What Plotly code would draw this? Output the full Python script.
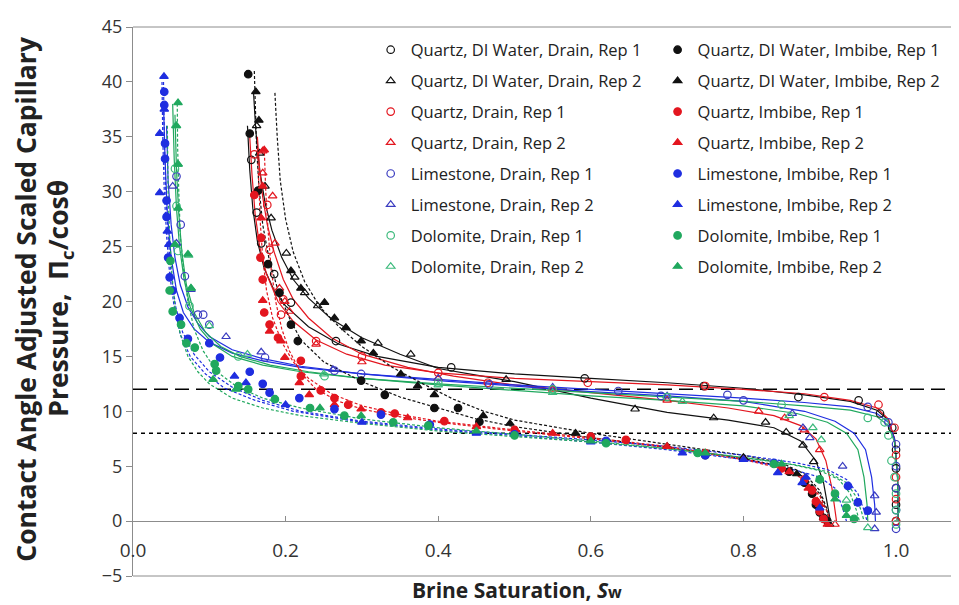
import plotly.graph_objects as go

# ---------------- data (Sw, Pc/cos(theta)) ----------------
HLINE_SW = [0.0, 1.2]
HLINE_HI = [12, 12]
HLINE_LO = [8, 8]

X_TICKS = [0.0, 0.2, 0.4, 0.6, 0.8, 1.0]
X_TICK_TEXT = ["0.0", "0.2", "0.4", "0.6", "0.8", "1.0"]

# Quartz, DI water, drain, rep 1
QDI_D1_SW = [0.155, 0.162, 0.168, 0.185, 0.207, 0.266, 0.417, 0.592, 0.748, 0.872, 0.951, 0.979, 0.995, 1.0, 1.0, 1.0, 1.0, 1.0]
QDI_D1_PC = [32.9, 28.1, 25.3, 22.5, 19.9, 16.4, 14.0, 13.0, 12.3, 11.3, 11.0, 9.8, 8.5, 6.5, 4.8, 3.0, 1.5, 0.0]
QDI_D1_FIT_SW = [0.150, 0.153, 0.157, 0.163, 0.172, 0.185, 0.20, 0.23, 0.27, 0.32, 0.40, 0.50, 0.60, 0.70, 0.80, 0.88, 0.94, 0.975, 0.99, 0.998, 1.002, 1.003]
QDI_D1_FIT_PC = [36, 32, 28.5, 25.5, 23, 21, 19.6, 17.7, 16.1, 15.0, 14.0, 13.4, 13.0, 12.6, 12.1, 11.5, 10.9, 10.1, 9.2, 7.5, 4, 0]

# Quartz, DI water, drain, rep 2
QDI_D2_SW = [0.162, 0.166, 0.173, 0.181, 0.201, 0.212, 0.225, 0.242, 0.279, 0.321, 0.364, 0.489, 0.658, 0.761, 0.829, 0.856, 0.878, 0.892, 0.913]
QDI_D2_PC = [36.0, 33.5, 30.5, 27.6, 24.4, 22.2, 20.8, 19.6, 17.6, 16.2, 15.2, 12.9, 10.2, 9.4, 9.0, 8.1, 6.9, 5.4, -0.3]
QDI_D2_FIT_SW = [0.158, 0.161, 0.166, 0.173, 0.182, 0.195, 0.21, 0.23, 0.26, 0.30, 0.35, 0.40, 0.45, 0.50, 0.60, 0.70, 0.78, 0.84, 0.875, 0.895, 0.905, 0.912, 0.914]
QDI_D2_FIT_PC = [39, 35.5, 32, 29, 26.5, 24, 22, 20.3, 18.4, 16.7, 15.2, 13.9, 13.3, 12.7, 11.2, 9.9, 9.2, 8.5, 7.3, 5.5, 3.5, 1, 0]

# Quartz, DI water, imbibe, rep 1
QDI_I1_SW = [0.151, 0.153, 0.164, 0.177, 0.192, 0.207, 0.216, 0.299, 0.330, 0.395, 0.426, 0.454, 0.60, 0.75, 0.86, 0.88, 0.89, 0.895, 0.90, 0.905, 0.91]
QDI_I1_PC = [40.7, 35.3, 30.1, 23.4, 20.8, 17.9, 16.4, 12.8, 11.5, 10.3, 10.3, 9.05, 7.6, 6.0, 4.5, 3.5, 2.5, 1.5, 0.8, 0.3, 0.0]
QDI_I1_FIT_SW = [0.159, 0.160, 0.162, 0.165, 0.17, 0.178, 0.19, 0.205, 0.22, 0.25, 0.30, 0.35, 0.40, 0.45, 0.50, 0.60, 0.70, 0.80, 0.85, 0.88, 0.90, 0.91, 0.913]
QDI_I1_FIT_PC = [41, 38, 34, 30.5, 27, 24, 21, 18.5, 16.5, 14.5, 12.7, 11.3, 10.3, 9.3, 8.6, 7.6, 6.7, 5.7, 5.0, 4.0, 2.5, 0.8, 0]

# Quartz, DI water, imbibe, rep 2
QDI_I2_SW = [0.161, 0.165, 0.207, 0.220, 0.251, 0.264, 0.279, 0.299, 0.315, 0.351, 0.373, 0.395, 0.459, 0.494, 0.58, 0.70, 0.80, 0.87, 0.89, 0.90, 0.905]
QDI_I2_PC = [39.1, 36.5, 22.8, 21.2, 19.9, 18.5, 17.6, 16.4, 15.3, 13.4, 12.3, 11.5, 9.6, 8.9, 8.0, 6.8, 5.8, 4.3, 3.0, 1.5, 0.3]
QDI_I2_FIT_SW = [0.186, 0.189, 0.193, 0.20, 0.21, 0.225, 0.245, 0.27, 0.30, 0.34, 0.38, 0.42, 0.46, 0.50, 0.60, 0.70, 0.80, 0.85, 0.88, 0.90, 0.91, 0.912]
QDI_I2_FIT_PC = [39, 35, 31, 27.5, 24.5, 21.8, 19.5, 17.7, 15.9, 14.0, 12.5, 11.1, 10.0, 9.2, 8.0, 7.0, 6.0, 5.3, 4.3, 2.8, 1.0, 0]

# Quartz, drain, rep 1
Q_D1_SW = [0.159, 0.176, 0.179, 0.194, 0.197, 0.240, 0.30, 0.40, 0.465, 0.596, 0.75, 0.906, 0.977, 0.998, 1.0, 1.0, 1.0, 1.0]
Q_D1_PC = [33.4, 28.8, 24.7, 18.8, 20.2, 16.4, 15.0, 13.5, 12.6, 12.6, 12.3, 11.3, 10.6, 8.5, 6.0, 4.0, 2.0, 0.0]
Q_D1_FIT_SW = [0.153, 0.156, 0.16, 0.166, 0.175, 0.19, 0.21, 0.24, 0.28, 0.33, 0.40, 0.50, 0.60, 0.70, 0.80, 0.88, 0.94, 0.975, 0.99, 0.998, 1.002, 1.003]
Q_D1_FIT_PC = [35, 31.5, 28, 25, 22.5, 20, 18.2, 16.5, 15.2, 14.2, 13.5, 13.0, 12.7, 12.4, 12.0, 11.6, 11.0, 10.3, 9.3, 7.5, 4, 0]

# Quartz, drain, rep 2
Q_D2_SW = [0.170, 0.170, 0.183, 0.186, 0.192, 0.199, 0.205, 0.240, 0.30, 0.40, 0.55, 0.70, 0.820, 0.854, 0.88, 0.90, 0.92]
Q_D2_PC = [33.7, 31.7, 29.6, 25.3, 21.2, 20.0, 19.1, 16.1, 14.5, 13.0, 12.0, 11.0, 10.0, 9.4, 8.3, 6.5, -0.3]
Q_D2_FIT_SW = [0.163, 0.166, 0.17, 0.176, 0.185, 0.197, 0.21, 0.23, 0.26, 0.30, 0.36, 0.42, 0.50, 0.60, 0.70, 0.78, 0.84, 0.875, 0.895, 0.908, 0.916, 0.92, 0.922]
Q_D2_FIT_PC = [35, 32, 29.5, 27, 24.5, 22, 20.2, 18.5, 16.7, 15.2, 14.0, 13.2, 12.4, 11.7, 11.0, 10.3, 9.6, 8.7, 7.5, 5.5, 3, 1, 0]

# Quartz, imbibe, rep 1
Q_I1_SW = [0.159, 0.168, 0.167, 0.170, 0.172, 0.179, 0.190, 0.220, 0.220, 0.246, 0.264, 0.282, 0.325, 0.343, 0.408, 0.50, 0.60, 0.646, 0.75, 0.85, 0.88, 0.89, 0.895, 0.90, 0.905]
Q_I1_PC = [29.7, 25.8, 24.0, 22.0, 19.0, 17.9, 16.7, 14.6, 13.2, 11.9, 11.2, 10.6, 9.9, 9.8, 9.1, 8.3, 7.7, 7.4, 6.2, 4.8, 3.8, 2.8, 1.8, 0.9, 0.2]
Q_I1_FIT_SW = [0.163, 0.165, 0.167, 0.17, 0.175, 0.183, 0.195, 0.21, 0.23, 0.26, 0.30, 0.35, 0.40, 0.50, 0.60, 0.70, 0.80, 0.85, 0.88, 0.895, 0.903, 0.906]
Q_I1_FIT_PC = [34, 30, 27, 24, 21, 18.5, 16.3, 14.5, 13, 11.6, 10.5, 9.7, 9.1, 8.3, 7.6, 6.8, 5.7, 4.9, 3.9, 2.5, 1, 0]

# Quartz, imbibe, rep 2
Q_I2_SW = [0.172, 0.170, 0.168, 0.170, 0.179, 0.194, 0.199, 0.218, 0.231, 0.264, 0.299, 0.36, 0.45, 0.55, 0.70, 0.80, 0.86, 0.885, 0.90, 0.91]
Q_I2_PC = [33.8, 30.5, 27.6, 20.1, 17.3, 16.4, 14.9, 12.6, 11.5, 10.6, 10.2, 9.4, 8.6, 8.0, 6.8, 5.6, 4.5, 3.0, 1.5, -0.3]
Q_I2_FIT_SW = [0.172, 0.174, 0.177, 0.181, 0.187, 0.195, 0.205, 0.22, 0.24, 0.27, 0.30, 0.35, 0.40, 0.50, 0.60, 0.70, 0.80, 0.85, 0.88, 0.90, 0.91, 0.914]
Q_I2_FIT_PC = [34, 30, 26.5, 23, 20, 17.5, 15.5, 13.5, 12.0, 10.9, 10.2, 9.5, 9.0, 8.2, 7.5, 6.7, 5.6, 4.8, 3.8, 2.3, 0.8, 0]

# Limestone, drain, rep 1
L_D1_SW = [0.057, 0.0625, 0.068, 0.085, 0.092, 0.100, 0.173, 0.264, 0.299, 0.467, 0.636, 0.692, 0.779, 0.80, 0.963, 0.99, 1.0, 1.0, 1.0, 1.0, 1.0]
L_D1_PC = [31.4, 27.0, 22.3, 18.8, 18.8, 17.9, 14.9, 13.7, 13.4, 12.45, 11.85, 11.4, 11.5, 11.0, 10.4, 9.0, 7.0, 5.0, 3.0, 1.0, -0.7]
L_D1_FIT_SW = [0.040, 0.042, 0.045, 0.05, 0.057, 0.066, 0.08, 0.10, 0.13, 0.17, 0.22, 0.30, 0.40, 0.50, 0.60, 0.70, 0.80, 0.88, 0.94, 0.975, 0.99, 0.998, 1.002, 1.003]
L_D1_FIT_PC = [38, 33, 28, 24, 21, 19, 17.5, 16.3, 15.3, 14.6, 14.0, 13.4, 12.9, 12.4, 12.0, 11.6, 11.2, 10.8, 10.4, 9.8, 9.0, 7.5, 4, 0]

# Limestone, drain, rep 2
L_D2_SW = [0.052, 0.057, 0.076, 0.122, 0.168, 0.262, 0.40, 0.55, 0.70, 0.864, 0.878, 0.887, 0.93, 0.972, 0.974, 0.972]
L_D2_PC = [30.5, 25.3, 21.1, 16.8, 15.4, 13.8, 13.0, 12.2, 11.4, 9.8, 8.5, 7.6, 5.0, 2.3, 0.8, -0.7]
L_D2_FIT_SW = [0.044, 0.046, 0.05, 0.055, 0.062, 0.072, 0.085, 0.10, 0.13, 0.17, 0.22, 0.30, 0.40, 0.50, 0.60, 0.70, 0.80, 0.88, 0.92, 0.945, 0.96, 0.968, 0.972, 0.973]
L_D2_FIT_PC = [36, 31, 27, 24, 21.5, 19.5, 18, 16.8, 15.6, 14.8, 14.1, 13.4, 12.8, 12.3, 11.8, 11.4, 10.9, 10.0, 9.1, 8.0, 6.5, 4, 1.5, 0]

# Limestone, imbibe, rep 1
L_I1_SW = [0.041, 0.041, 0.042, 0.042, 0.044, 0.044, 0.046, 0.048, 0.052, 0.061, 0.072, 0.100, 0.114, 0.153, 0.170, 0.179, 0.218, 0.264, 0.325, 0.389, 0.50, 0.62, 0.75, 0.84, 0.937, 0.95, 0.963]
L_I1_PC = [39.1, 37.9, 34.4, 33.0, 29.2, 27.7, 24.0, 22.2, 21.0, 18.5, 16.6, 16.2, 14.9, 13.6, 12.5, 11.7, 11.2, 10.2, 9.7, 8.8, 7.9, 7.3, 6.0, 5.3, 3.2, 1.7, 0.95]
L_I1_FIT_SW = [0.040, 0.041, 0.043, 0.046, 0.05, 0.056, 0.065, 0.08, 0.10, 0.13, 0.17, 0.22, 0.30, 0.40, 0.50, 0.60, 0.70, 0.80, 0.87, 0.91, 0.935, 0.95, 0.958, 0.962]
L_I1_FIT_PC = [40, 35, 30, 26, 22.5, 19.5, 17.2, 15.2, 13.6, 12.2, 11.0, 10.0, 9.1, 8.4, 7.9, 7.4, 6.8, 6.0, 5.3, 4.7, 3.8, 2.5, 1, 0]

# Limestone, imbibe, rep 2
L_I2_SW = [0.0406, 0.041, 0.035, 0.035, 0.045, 0.047, 0.133, 0.148, 0.20, 0.30, 0.45, 0.60, 0.72, 0.80, 0.845, 0.877, 0.882, 0.90]
L_I2_PC = [40.5, 37.5, 35.3, 29.9, 26.4, 25.2, 13.2, 12.6, 10.6, 9.0, 8.0, 7.2, 6.2, 5.6, 4.4, 3.5, 4.0, 1.2]
L_I2_FIT_SW = [0.038, 0.039, 0.041, 0.044, 0.048, 0.054, 0.062, 0.075, 0.095, 0.12, 0.16, 0.21, 0.30, 0.40, 0.50, 0.60, 0.70, 0.80, 0.86, 0.90, 0.92, 0.93, 0.935]
L_I2_FIT_PC = [40, 35, 30, 26, 22.5, 19.5, 17, 15, 13.4, 12.1, 11.0, 10.0, 9.0, 8.3, 7.8, 7.2, 6.5, 5.6, 4.8, 4.0, 3.0, 1.2, 0]

# Dolomite, drain, rep 1
D_D1_SW = [0.055, 0.057, 0.059, 0.074, 0.138, 0.251, 0.40, 0.55, 0.70, 0.85, 0.963, 0.985, 0.99, 0.994, 0.998, 1.0, 1.0, 1.0]
D_D1_PC = [32.1, 28.7, 24.6, 19.6, 15.0, 13.2, 12.6, 12.0, 11.3, 10.6, 9.4, 9.0, 7.8, 5.5, 4.0, 2.5, 1.0, -0.3]
D_D1_FIT_SW = [0.052, 0.054, 0.057, 0.061, 0.067, 0.075, 0.088, 0.105, 0.13, 0.17, 0.22, 0.30, 0.40, 0.50, 0.60, 0.70, 0.80, 0.88, 0.94, 0.975, 0.99, 0.998, 1.002, 1.003]
D_D1_FIT_PC = [38, 33, 28.5, 25, 22, 19.5, 17.5, 16.1, 15.0, 14.2, 13.6, 13.0, 12.5, 12.1, 11.7, 11.3, 10.9, 10.5, 10.1, 9.5, 8.7, 7.2, 4, 0]

# Dolomite, drain, rep 2
D_D2_SW = [0.056, 0.059, 0.073, 0.076, 0.10, 0.15, 0.25, 0.40, 0.55, 0.72, 0.86, 0.891, 0.902, 0.935, 0.963]
D_D2_PC = [36.0, 32.5, 24.2, 21.2, 17.8, 15.2, 13.4, 12.4, 11.7, 10.9, 9.6, 8.5, 7.4, 1.9, -0.6]
D_D2_FIT_SW = [0.055, 0.057, 0.06, 0.064, 0.07, 0.08, 0.095, 0.115, 0.14, 0.18, 0.23, 0.30, 0.40, 0.50, 0.60, 0.70, 0.80, 0.87, 0.91, 0.935, 0.95, 0.958, 0.962, 0.963]
D_D2_FIT_PC = [37, 32, 28, 24.5, 21.5, 19, 17.2, 15.9, 15.0, 14.2, 13.6, 13.0, 12.4, 11.9, 11.4, 11.0, 10.5, 9.8, 9.0, 8.0, 6.5, 4, 1.5, 0]

# Dolomite, imbibe, rep 1
D_I1_SW = [0.049, 0.048, 0.052, 0.063, 0.070, 0.081, 0.107, 0.109, 0.138, 0.151, 0.186, 0.232, 0.277, 0.341, 0.387, 0.50, 0.62, 0.74, 0.84, 0.90, 0.92, 0.935, 0.945]
D_I1_PC = [23.7, 21.0, 19.1, 17.9, 16.2, 15.8, 14.3, 13.7, 12.3, 12.0, 11.1, 10.3, 9.6, 9.0, 8.7, 7.8, 7.1, 6.2, 5.2, 3.8, 2.5, 1.2, 0.2]
D_I1_FIT_SW = [0.045, 0.046, 0.048, 0.051, 0.055, 0.062, 0.072, 0.085, 0.10, 0.13, 0.17, 0.22, 0.30, 0.40, 0.50, 0.60, 0.70, 0.80, 0.87, 0.91, 0.935, 0.948, 0.955, 0.958]
D_I1_FIT_PC = [36, 30, 26, 22.5, 19.5, 17, 15, 13.6, 12.5, 11.2, 10.3, 9.6, 8.9, 8.2, 7.7, 7.2, 6.6, 5.8, 5.1, 4.5, 3.5, 2.2, 0.8, 0]

# Dolomite, imbibe, rep 2
D_I2_SW = [0.059, 0.057, 0.059, 0.059, 0.055, 0.072, 0.076, 0.105, 0.135, 0.245, 0.299, 0.45, 0.60, 0.75, 0.85, 0.90, 0.92, 0.935]
D_I2_PC = [38.1, 36.0, 32.5, 28.5, 25.2, 24.3, 21.2, 12.9, 12.0, 10.3, 9.6, 8.2, 7.3, 6.2, 5.2, 3.8, 2.0, 0.5]
D_I2_FIT_SW = [0.058, 0.0585, 0.06, 0.062, 0.066, 0.072, 0.08, 0.092, 0.11, 0.135, 0.17, 0.22, 0.30, 0.40, 0.50, 0.60, 0.70, 0.80, 0.86, 0.90, 0.925, 0.94, 0.948, 0.952]
D_I2_FIT_PC = [38, 34, 30, 26, 23, 20, 17.5, 15.5, 13.6, 12.3, 11.2, 10.3, 9.3, 8.5, 7.9, 7.3, 6.6, 5.8, 5.2, 4.6, 3.8, 2.5, 1.0, 0]

# ---------------- styling ----------------
BLACK = "#111111"
RED = "#e3161f"
BLUE = "#1f2ee0"
BLUE_OPEN = "#3a3cc0"
GREEN = "#20a85e"
GREEN_OPEN = "#3cba7c"

series = [
    ("Quartz, DI Water, Drain, Rep 1", QDI_D1_SW, QDI_D1_PC, QDI_D1_FIT_SW, QDI_D1_FIT_PC, BLACK, BLACK, "circle-open", "solid", "legend"),
    ("Quartz, DI Water, Drain, Rep 2", QDI_D2_SW, QDI_D2_PC, QDI_D2_FIT_SW, QDI_D2_FIT_PC, BLACK, BLACK, "triangle-up-open", "solid", "legend"),
    ("Quartz, Drain, Rep 1", Q_D1_SW, Q_D1_PC, Q_D1_FIT_SW, Q_D1_FIT_PC, RED, RED, "circle-open", "solid", "legend"),
    ("Quartz, Drain, Rep 2", Q_D2_SW, Q_D2_PC, Q_D2_FIT_SW, Q_D2_FIT_PC, RED, RED, "triangle-up-open", "solid", "legend"),
    ("Limestone, Drain, Rep 1", L_D1_SW, L_D1_PC, L_D1_FIT_SW, L_D1_FIT_PC, BLUE_OPEN, BLUE, "circle-open", "solid", "legend"),
    ("Limestone, Drain, Rep 2", L_D2_SW, L_D2_PC, L_D2_FIT_SW, L_D2_FIT_PC, BLUE_OPEN, BLUE, "triangle-up-open", "solid", "legend"),
    ("Dolomite, Drain, Rep 1", D_D1_SW, D_D1_PC, D_D1_FIT_SW, D_D1_FIT_PC, GREEN_OPEN, GREEN, "circle-open", "solid", "legend"),
    ("Dolomite, Drain, Rep 2", D_D2_SW, D_D2_PC, D_D2_FIT_SW, D_D2_FIT_PC, GREEN_OPEN, GREEN, "triangle-up-open", "solid", "legend"),
    ("Quartz, DI Water, Imbibe, Rep 1", QDI_I1_SW, QDI_I1_PC, QDI_I1_FIT_SW, QDI_I1_FIT_PC, BLACK, BLACK, "circle", "3px,2px", "legend2"),
    ("Quartz, DI Water, Imbibe, Rep 2", QDI_I2_SW, QDI_I2_PC, QDI_I2_FIT_SW, QDI_I2_FIT_PC, BLACK, BLACK, "triangle-up", "3px,2px", "legend2"),
    ("Quartz, Imbibe, Rep 1", Q_I1_SW, Q_I1_PC, Q_I1_FIT_SW, Q_I1_FIT_PC, RED, RED, "circle", "3px,2px", "legend2"),
    ("Quartz, Imbibe, Rep 2", Q_I2_SW, Q_I2_PC, Q_I2_FIT_SW, Q_I2_FIT_PC, RED, RED, "triangle-up", "3px,2px", "legend2"),
    ("Limestone, Imbibe, Rep 1", L_I1_SW, L_I1_PC, L_I1_FIT_SW, L_I1_FIT_PC, BLUE, BLUE, "circle", "3px,2px", "legend2"),
    ("Limestone, Imbibe, Rep 2", L_I2_SW, L_I2_PC, L_I2_FIT_SW, L_I2_FIT_PC, BLUE, BLUE, "triangle-up", "3px,2px", "legend2"),
    ("Dolomite, Imbibe, Rep 1", D_I1_SW, D_I1_PC, D_I1_FIT_SW, D_I1_FIT_PC, GREEN, GREEN, "circle", "3px,2px", "legend2"),
    ("Dolomite, Imbibe, Rep 2", D_I2_SW, D_I2_PC, D_I2_FIT_SW, D_I2_FIT_PC, GREEN, GREEN, "triangle-up", "3px,2px", "legend2"),
]

fig = go.Figure()

# reference lines
fig.add_trace(go.Scatter(x=HLINE_SW, y=HLINE_HI, mode="lines", showlegend=False, hoverinfo="skip",
                         line=dict(color="#000000", width=1.5, dash="14px,7px")))
fig.add_trace(go.Scatter(x=HLINE_SW, y=HLINE_LO, mode="lines", showlegend=False, hoverinfo="skip",
                         line=dict(color="#000000", width=1.5, dash="4px,4px")))

# fitted curves
for name, sw, pc, fsw, fpc, mcol, lcol, sym, dash, leg in series:
    fig.add_trace(go.Scatter(x=fsw, y=fpc, mode="lines", showlegend=False, hoverinfo="skip",
                             line=dict(color=lcol, width=1.2, dash=dash)))

# measured points
for i, (name, sw, pc, fsw, fpc, mcol, lcol, sym, dash, leg) in enumerate(series):
    fig.add_trace(go.Scatter(
        x=sw, y=pc, mode="markers", name=name, legend=leg, legendgroup="g%d" % i,
        marker=dict(symbol=sym, size=7.5, color=mcol, line=dict(color=mcol, width=1.2)),
    ))

FONT = "'Open Sans', Lato, sans-serif"
TXT = "#222222"

fig.update_layout(
    width=959, height=605,
    margin=dict(l=125, r=0, t=19, b=37),
    paper_bgcolor="white", plot_bgcolor="white",
    font=dict(family=FONT, color=TXT),
    xaxis=dict(range=[0, 1.093], anchor="free", position=0.1, showline=True, linecolor="#8c8c8c",
               linewidth=1, ticks="inside", ticklen=5, tickcolor="#8c8c8c", tickvals=X_TICKS,
               ticktext=X_TICK_TEXT, tickfont=dict(size=19, color="#333333"), showgrid=False,
               zeroline=False, ticklabelstandoff=12),
    yaxis=dict(range=[-5, 45], dtick=5, showline=True, linecolor="#8c8c8c", linewidth=1,
               ticks="outside", ticklen=6, tickcolor="#8c8c8c", tickfont=dict(size=18, color="#333333"),
               showgrid=False, zeroline=False),
    legend=dict(x=0.285, y=0.99, xanchor="left", yanchor="top", bgcolor="rgba(0,0,0,0)",
                font=dict(size=16.5, color=TXT), traceorder="grouped", tracegroupgap=6.5),
    legend2=dict(x=0.629, y=0.99, xanchor="left", yanchor="top", bgcolor="rgba(0,0,0,0)",
                 font=dict(size=16.5, color=TXT), traceorder="grouped", tracegroupgap=6.5),
    shapes=[
        dict(type="line", xref="paper", yref="paper", x0=0, x1=1, y0=1, y1=1, line=dict(color="#8c8c8c", width=1)),
        dict(type="line", xref="paper", yref="paper", x0=0, x1=1, y0=0, y1=0, line=dict(color="#8c8c8c", width=1)),
    ],
    annotations=[
        dict(text="<b>Brine Saturation, <i>S</i><span style='font-size:16px'>w</span></b>",
             xref="paper", yref="paper", x=0.46, y=-0.026, xanchor="center", yanchor="middle",
             showarrow=False, font=dict(size=21, color=TXT)),
        dict(text="<b>Contact Angle Adjusted Scaled Capillary</b>",
             xref="paper", yref="paper", x=(18 - 125) / 834, y=0.505, xanchor="center", yanchor="middle",
             textangle=-90, showarrow=False, font=dict(size=26.5, color=TXT)),
        dict(text="<b>Pressure,  Π<sub>c</sub>/cosθ</b>",
             xref="paper", yref="paper", x=(52 - 125) / 834, y=0.505, xanchor="center", yanchor="middle",
             textangle=-90, showarrow=False, font=dict(size=26.5, color=TXT)),
    ],
)

fig.write_html("out.html")
